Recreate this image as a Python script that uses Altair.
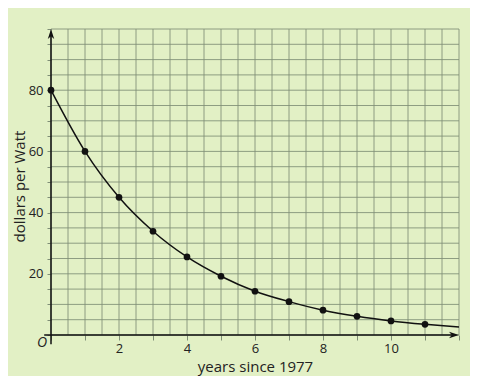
import altair as alt
import pandas as pd

years = [0, 1, 2, 3, 4, 5, 6, 7, 8, 9, 10, 11]
dollars = [80, 60, 45, 33.9, 25.5, 19.2, 14.3, 10.9, 8.1, 6.1, 4.6, 3.5]
curve_x = [0, 1, 2, 3, 4, 5, 6, 7, 8, 9, 10, 11, 12]
curve_y = [80, 60, 45, 33.9, 25.5, 19.2, 14.3, 10.9, 8.1, 6.1, 4.6, 3.5, 2.6]
x_ticks = [i / 2 for i in range(0, 25)]
y_ticks = list(range(0, 101, 5))

BG = "#e2f0c5"
GRID = "#7f8e76"
FONT = "Open Sans"

pts = pd.DataFrame({"x": years, "y": dollars})
curve = pd.DataFrame({"x": curve_x, "y": curve_y})

xs = alt.Scale(domain=[0, 12], nice=False, zero=False)
ys = alt.Scale(domain=[0, 100], nice=False, zero=False)

xaxis = alt.Axis(
    values=x_ticks, grid=False, format="d",
    domain=False, ticks=True, tickColor=GRID, tickSize=5,
    labelExpr="(datum.value > 0 && datum.value < 12 && datum.value % 2 == 0) ? datum.label : ''",
    labelFont=FONT, labelFontSize=13, labelColor="#222", labelPadding=2,
    title="years since 1977", titleFont=FONT, titleFontSize=15,
    titleFontWeight="normal", titleColor="#222",
    titleX=204, titleY=31, titleBaseline="middle", titleAlign="center",
)
yaxis = alt.Axis(
    values=y_ticks, grid=False, format="d",
    domain=False, ticks=True, tickColor=GRID, tickSize=4,
    labelExpr="(datum.value >= 20 && datum.value <= 80 && datum.value % 20 == 0) ? datum.label : ''",
    labelFont=FONT, labelFontSize=13, labelColor="#222", labelPadding=4,
    title="dollars per Watt", titleFont=FONT, titleFontSize=15,
    titleFontWeight="normal", titleColor="#222",
    titleX=-32, titleY=157, titleBaseline="middle", titleAlign="center", titleAngle=270,
)

X = alt.X("x:Q", scale=xs, axis=xaxis)
Y = alt.Y("y:Q", scale=ys, axis=yaxis)

vgrid = alt.Chart(pd.DataFrame({"x": x_ticks})).mark_rule(
    color=GRID, strokeWidth=1, opacity=0.85
).encode(x=X, y=alt.value(0), y2=alt.value(306))

hgrid = alt.Chart(pd.DataFrame({"y": y_ticks})).mark_rule(
    color=GRID, strokeWidth=1, opacity=0.85
).encode(y=Y, x=alt.value(0), x2=alt.value(408))

xline = alt.Chart(pd.DataFrame({"x": [-0.2], "x2": [11.9], "y": [0]})).mark_rule(
    color="#111", strokeWidth=1.5
).encode(x=X, x2="x2:Q", y=Y)

yline = alt.Chart(pd.DataFrame({"x": [0], "y": [-3], "y2": [99]})).mark_rule(
    color="#111", strokeWidth=1.5
).encode(x=X, y=Y, y2="y2:Q")

arrow_r = alt.Chart(pd.DataFrame({"x": [12], "y": [0]})).mark_point(
    shape="M 0 0 L -2.5 -0.8 L -1.8 0 L -2.5 0.8 Z", filled=True, opacity=1,
    color="#111", size=64,
).encode(x=X, y=Y)

arrow_u = alt.Chart(pd.DataFrame({"x": [0], "y": [100]})).mark_point(
    shape="M 0 0 L -0.8 2.5 L 0 1.8 L 0.8 2.5 Z", filled=True, opacity=1,
    color="#111", size=64,
).encode(x=X, y=Y)

line = alt.Chart(curve).mark_line(color="#111", strokeWidth=1.5, interpolate="monotone").encode(
    x=X, y=Y
)

dots = alt.Chart(pts).mark_circle(color="#111", size=45, opacity=1).encode(x=X, y=Y)

origin = alt.Chart(pd.DataFrame({"x": [-0.26], "y": [-2.6], "t": ["O"]})).mark_text(
    font=FONT, fontSize=14, fontStyle="italic", color="#222", align="center", baseline="middle"
).encode(x=X, y=Y, text="t:N")

chart = alt.layer(vgrid, hgrid, xline, yline, line, dots, arrow_r, arrow_u, origin).properties(
    width=408, height=306,
    background=BG,
    padding={"left": 43, "top": 21, "right": 11, "bottom": 41},
    autosize=alt.AutoSizeParams(type="none"),
).configure_view(stroke=None)

chart.save("out.html", embed_options={"renderer": "svg", "actions": False})
